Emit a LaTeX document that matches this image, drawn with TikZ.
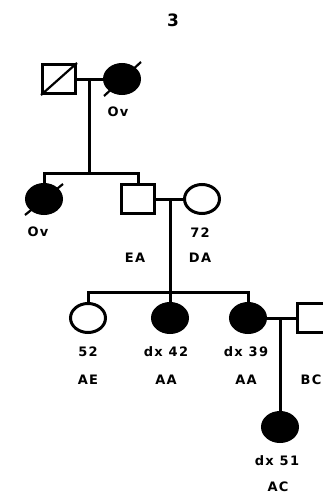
\documentclass[tikz,border=0pt]{standalone}
\usepackage{fontspec}
\setmainfont{DejaVu Sans}
\newfontfamily\labfont[LetterSpace=10]{DejaVu Sans Bold}
\usetikzlibrary{shapes.geometric}
\begin{document}
\begin{tikzpicture}[x=1pt,y=-1pt,
  line width=3pt,
  male/.style={draw, rectangle, minimum width=33pt, minimum height=29pt, inner sep=0pt},
  female/.style={draw, ellipse, minimum width=35pt, minimum height=29pt, inner sep=0pt},
  affected/.style={fill=black},
  lab/.style={font=\labfont\fontsize{13}{15}\selectfont, inner sep=0pt},
  slash/.style={line width=2.2pt}]
\useasboundingbox (0,0) rectangle (323,495);

% family number
\node[font=\labfont\fontsize{17}{19}\selectfont] (title) at (173,20) {3};

% generation I
\node[male] (gf) at (59,79) {};
\node[female, affected] (gm) at (122,79) {};
\draw[slash] (gf.south west) -- (gf.north east);
\draw[slash] (104,96) -- (141,62);
\draw (gf.east) -- (gm.west);
\coordinate (d1) at (89,79);
\coordinate (s1) at (89,173);
\draw (d1) -- (s1);
\node[lab] (gmlab) at (118,112) {Ov};

% generation II
\node[female, affected] (aunt) at (44,199) {};
\node[male] (father) at (138,199) {};
\node[female] (mother) at (202,199) {};
\draw[slash] (25,215) -- (63,184);
\draw (aunt.north) |- (s1) -| (father.north);
\draw (father.east) -- (mother.west);
\coordinate (d2) at (170,199);
\coordinate (s2) at (170,292);
\draw (d2) -- (s2);
\node[lab] (auntlab) at (38,232) {Ov};
\node[lab] (fatherlab) at (135,258) {EA};
\node[lab] (motherage) at (200,233) {72};
\node[lab] (motherlab) at (200,258) {DA};

% generation III
\node[female] (sis1) at (88,318) {};
\node[female, affected] (sis2) at (170,318) {};
\node[female, affected] (sis3) at (248,318) {};
\node[male] (spouse) at (314,318) {};
\draw (sis1.north) |- (s2) -| (sis3.north);
\draw (s2) -- (sis2.north);
\draw (sis3.east) -- (spouse.west);
\coordinate (d3) at (280,318);
\node[lab] (sis1age) at (88,352) {52};
\node[lab] (sis1lab) at (88,380) {AE};
\node[lab] (sis2age) at (166,352) {dx 42};
\node[lab] (sis2lab) at (166,380) {AA};
\node[lab] (sis3age) at (246,352) {dx 39};
\node[lab] (sis3lab) at (246,380) {AA};
\node[lab] (spouselab) at (311,380) {BC};

% generation IV
\node[female, affected] (niece) at (280,427) {};
\draw (d3) -- (niece.north);
\node[lab] (niecage) at (277,461) {dx 51};
\node[lab] (niecelab) at (278,487) {AC};
\end{tikzpicture}
\end{document}
